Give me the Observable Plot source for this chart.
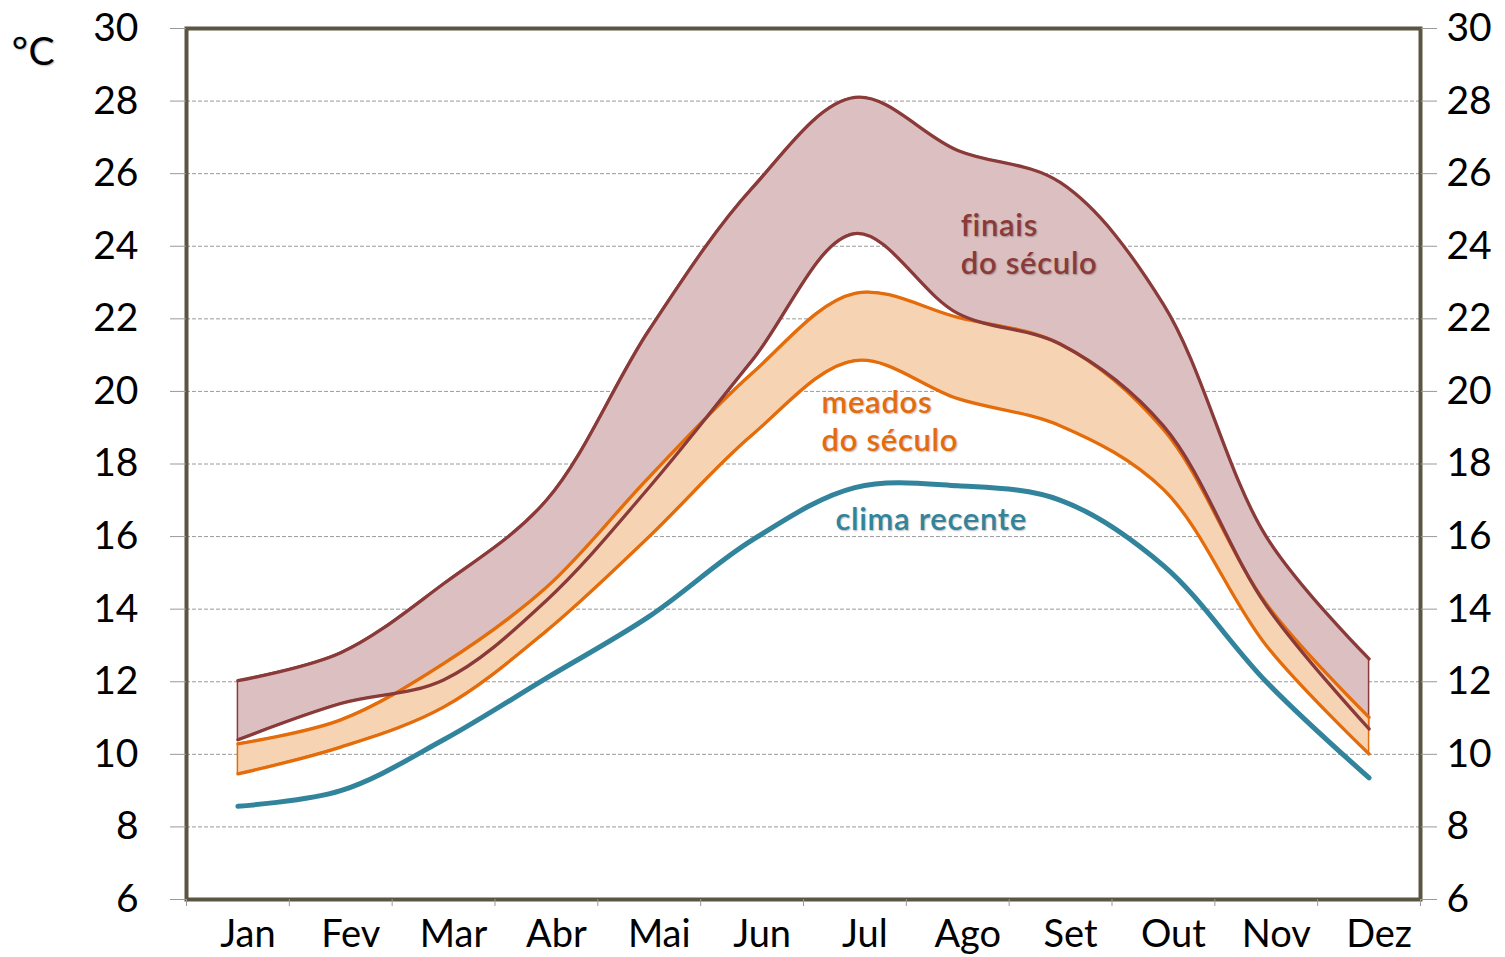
<!DOCTYPE html>
<html>
<head>
<meta charset="utf-8">
<script src="https://cdn.jsdelivr.net/npm/d3@7"></script>
<script src="https://cdn.jsdelivr.net/npm/@observablehq/plot@0.6"></script>
<style>
  html, body { margin: 0; padding: 0; background: #fff; }
  #chart svg { display: block; font-family: Lato, "Open Sans", sans-serif; }
  g[aria-label="text"] text { text-shadow: 1px 1px 1.5px rgba(0,0,0,0.28); letter-spacing: 0.7px; }
</style>
</head>
<body>
<div id="chart"></div>
<script>
const months = ["Jan","Fev","Mar","Abr","Mai","Jun","Jul","Ago","Set","Out","Nov","Dez"];
const climaRecente = [8.57, 9.0, 10.4, 12.1, 13.8, 15.9, 17.35, 17.4, 17.0, 15.2, 12.0, 9.35];
const meadosMin = [9.46, 10.2, 11.3, 13.4, 16.0, 18.8, 20.85, 19.8, 19.05, 17.3, 13.0, 10.01];
const meadosMax = [10.29, 10.95, 12.5, 14.6, 17.64, 20.5, 22.7, 22.04, 21.3, 18.95, 14.15, 11.02];
const finaisMin = [10.4, 11.4, 12.05, 14.24, 17.36, 20.85, 24.35, 22.15, 21.3, 19.05, 14.1, 10.7];
const finaisMax = [12.03, 12.8, 14.7, 17.0, 21.7, 25.6, 28.1, 26.64, 25.75, 22.4, 16.0, 12.63];
const yTicks = [6, 8, 10, 12, 14, 16, 18, 20, 22, 24, 26, 28, 30];
const labels = [
  {text: "finais\ndo século", m: 7.53, t: 24.085, color: "#8b3a3a"},
  {text: "meados\ndo século", m: 6.175, t: 19.21, color: "#e46c0a"},
  {text: "clima recente", m: 6.31, t: 16.5, color: "#31849b"}
];

const data = months.map((m, i) => ({
  x: i + 0.5,
  clima: climaRecente[i],
  mMin: meadosMin[i], mMax: meadosMax[i],
  fMin: finaisMin[i], fMax: finaisMax[i]
}));

const curve = "catmull-rom";
const fc = "#8b3a3a", mc = "#e46c0a", tc = "#31849b";

const chart = Plot.plot({
  width: 1505,
  height: 957,
  marginLeft: 186,
  marginRight: 85,
  marginTop: 28,
  marginBottom: 58,
  style: {background: "#fff", fontFamily: "Lato, 'Open Sans', sans-serif", color: "#000"},
  x: {domain: [0, 12]},
  y: {domain: [6, 30]},
  marks: [
    Plot.gridY(yTicks.slice(1, -1), {stroke: "#9a9a9a", strokeOpacity: 1, strokeDasharray: "4,2", strokeWidth: 1}),
    Plot.areaY(data, {x: "x", y1: "fMin", y2: "fMax", curve, fill: "#dcc0c1", stroke: fc, strokeWidth: 1.5}),
    Plot.areaY(data, {x: "x", y1: "mMin", y2: "mMax", curve, fill: "#f6d4b3", stroke: mc, strokeWidth: 1.5}),
    Plot.lineY(data, {x: "x", y: "mMax", curve, stroke: mc, strokeWidth: 3.3}),
    Plot.lineY(data, {x: "x", y: "mMin", curve, stroke: mc, strokeWidth: 3.3}),
    Plot.lineY(data, {x: "x", y: "fMax", curve, stroke: fc, strokeWidth: 3.3}),
    Plot.lineY(data, {x: "x", y: "fMin", curve, stroke: fc, strokeWidth: 3.3}),
    Plot.lineY(data, {x: "x", y: "clima", curve, stroke: tc, strokeWidth: 5}),
    Plot.text(labels, {x: "m", y: "t", text: "text", fill: "color", textAnchor: "start", lineAnchor: "middle", lineHeight: 1.2, fontSize: 31, fontWeight: 600}),
    Plot.frame({stroke: "#5a5642", strokeWidth: 4}),
    Plot.axisY(yTicks, {anchor: "left", tickSize: 16, tickPadding: 32, stroke: "#999", fill: "#000", fontSize: 39, label: null}),
    Plot.axisY(yTicks, {anchor: "right", tickSize: 16, tickPadding: 10, stroke: "#999", fill: "#000", fontSize: 39, label: null}),
    Plot.axisX(d3.range(13), {anchor: "bottom", tickSize: 7, stroke: "#999", tickFormat: () => "", label: null}),
    Plot.axisX(months.map((m, i) => i + 0.5), {anchor: "bottom", tickSize: 0, tickPadding: 21, dx: 10, fill: "#000", fontSize: 38, tickFormat: d => months[Math.floor(d)], label: null}),
    Plot.text(["°C"], {frameAnchor: "top-left", dx: -153, dy: 9, fontSize: 39, fill: "#000", textAnchor: "middle"})
  ]
});
document.getElementById("chart").appendChild(chart);
</script>
</body>
</html>
